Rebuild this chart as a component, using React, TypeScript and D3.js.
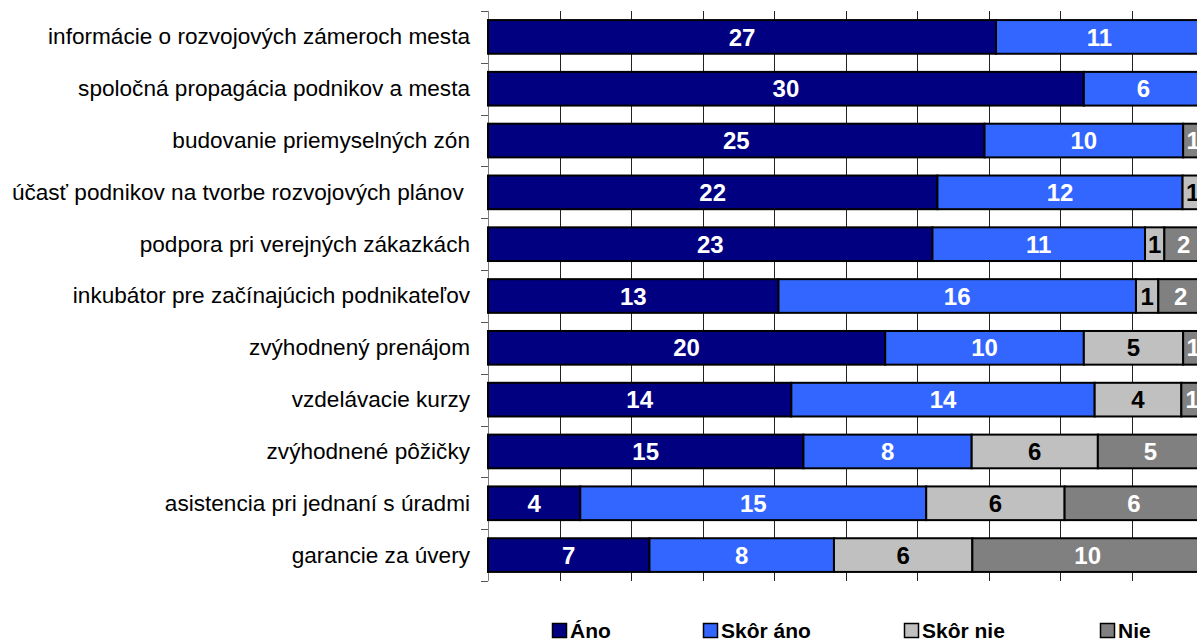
import React from "react";
import * as d3 from "d3";

const categories = [
  "informácie o rozvojových zámeroch mesta",
  "spoločná propagácia podnikov a mesta",
  "budovanie priemyselných zón",
  "účasť podnikov na tvorbe rozvojových plánov ",
  "podpora pri verejných zákazkách",
  "inkubátor pre začínajúcich podnikateľov",
  "zvýhodnený prenájom",
  "vzdelávacie kurzy",
  "zvýhodnené pôžičky",
  "asistencia pri jednaní s úradmi",
  "garancie za úvery",
];
const seriesNames = ["Áno", "Skôr áno", "Skôr nie", "Nie"];
const ano = [27, 30, 25, 22, 23, 13, 20, 14, 15, 4, 7];
const skorAno = [11, 6, 10, 12, 11, 16, 10, 14, 8, 15, 8];
const skorNie = [0, 0, 0, 1, 1, 1, 5, 4, 6, 6, 6];
const nie = [0, 0, 1, 0, 2, 2, 1, 1, 5, 6, 10];
const xTicks = [0, 0.1, 0.2, 0.3, 0.4, 0.5, 0.6, 0.7, 0.8, 0.9, 1];

const colors = ["#000080", "#3366FF", "#C0C0C0", "#808080"];
const textColors = ["#fff", "#fff", "#000", "#fff"];

export default function App() {
  const W = 1197, H = 640;
  const x0 = 488, x1 = 1203, yTop = 11, yBot = 581;
  const x = d3.scaleLinear().domain([0, 1]).range([x0, x1]);
  const y = d3.scaleBand<string>().domain(categories).range([yTop, yBot]).paddingInner(0.35).paddingOuter(0.175);
  const series = [ano, skorAno, skorNie, nie];
  const font = "'Liberation Sans', Arial, sans-serif";
  const step = y.step();

  const rows = categories.map((c, i) => {
    const vals = series.map((s) => s[i]);
    const total = d3.sum(vals);
    let acc = 0;
    const segs = vals.map((v, k) => {
      const s = { k, v, a: acc / total, b: (acc + v) / total };
      acc += v;
      return s;
    });
    return { c, segs };
  });

  const legendX = [552, 703, 904, 1100];

  return (
    <svg width={W} height={H} style={{ position: "absolute", left: 0, top: 0, display: "block" }} fontFamily={font}>
      <rect x={0} y={0} width={W} height={H} fill="#fff" />
      {xTicks.map((t, i) => (
        <line key={"g" + i} x1={Math.round(x(t)) + 0.5} x2={Math.round(x(t)) + 0.5} y1={yTop} y2={yBot} stroke={i === 0 ? "#808080" : "#222"} strokeWidth={1} />
      ))}
      {d3.range(categories.length + 1).map((i) => (
        <line key={"t" + i} x1={481} x2={488} y1={Math.round(yTop + i * step) + 0.5} y2={Math.round(yTop + i * step) + 0.5} stroke="#555" strokeWidth={1} />
      ))}
      {rows.map((r) => (
        <g key={r.c}>
          {r.segs.filter((s) => s.v > 0).map((s) => (
            <rect key={s.k} x={x(s.a)} y={y(r.c)!} width={x(s.b) - x(s.a)} height={y.bandwidth()} fill={colors[s.k]} stroke="#000" strokeWidth={2} />
          ))}
          {r.segs.filter((s) => s.v > 0).map((s) => (
            <text key={"l" + s.k} x={(x(s.a) + x(s.b)) / 2} y={y(r.c)! + y.bandwidth() / 2} dy="0.36em" textAnchor="middle" fontSize={24} fontWeight="bold" fill={textColors[s.k]}>
              {s.v}
            </text>
          ))}
          <text x={470} y={y(r.c)! + y.bandwidth() / 2} dy="0.33em" textAnchor="end" fontSize={22.6} fill="#000" style={{ whiteSpace: "pre" }}>
            {r.c}
          </text>
        </g>
      ))}
      {seriesNames.map((n, k) => (
        <g key={n}>
          <rect x={legendX[k] + 0.5} y={623.5} width={14} height={14} fill={colors[k]} stroke="#000" strokeWidth={1.5} />
          <text x={legendX[k] + 18} y={638} fontSize={21} fontWeight="bold" fill="#000">
            {n}
          </text>
        </g>
      ))}
    </svg>
  );
}
